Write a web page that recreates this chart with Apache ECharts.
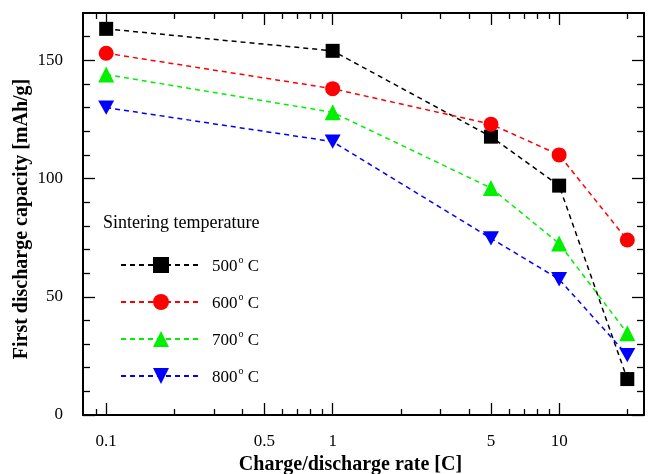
<!DOCTYPE html>
<html>
<head>
<meta charset="utf-8">
<script src="https://cdn.jsdelivr.net/npm/echarts@6/dist/echarts.min.js"></script>
<style>
  html, body { margin: 0; padding: 0; background: #fff; }
  #chart { width: 649px; height: 474px; }
</style>
</head>
<body>
<div id="chart"></div>
<script>
// Charge/discharge rates (C) and first discharge capacities (mAh/g)
const rates = [0.1, 1, 5, 10, 20];
const cap500 = [163.3, 154, 117.7, 97, 15.2];
const cap600 = [153, 138, 123, 110, 74];
const cap700 = [144, 128, 96, 72.5, 34.6];
const cap800 = [130, 115.6, 74.7, 57.4, 25.3];

const temps = ['500', '600', '700', '800'];
const seriesData = [cap500, cap600, cap700, cap800];
const colors = ['#000000', '#ff0000', '#00f000', '#0000ff'];
const symbols = ['rect', 'circle', 'triangle', 'path://M0,0 L10,0 L5,9 Z'];
const symbolSizes = [14, 15, 16, 16];

// Tick positions
const xMajor = [0.1, 0.5, 1, 5, 10];
const xMinor = [0.09, 0.2, 0.3, 0.4, 0.6, 0.7, 0.8, 0.9, 2, 3, 4, 6, 7, 8, 9, 20];
const yMajor = [0, 50, 100, 150];
const yMinor = [10, 20, 30, 40, 60, 70, 80, 90, 110, 120, 130, 140, 160];

const X_MIN = 0.079, X_MAX = 23.7, Y_MIN = 0, Y_MAX = 170;
const FONT = '"Liberation Serif", "Times New Roman", serif';

function xAxisDef(pos, ticks, len, withLabel, withLine) {
  return {
    type: 'log', logBase: 10, position: pos, min: X_MIN, max: X_MAX,
    axisLine: { show: withLine, onZero: false, lineStyle: { color: '#000', width: 2 } },
    axisTick: { show: true, inside: true, length: len, customValues: ticks, lineStyle: { color: '#000', width: 1.3 } },
    axisLabel: withLabel ? { show: true, customValues: xMajor, color: '#000', fontFamily: FONT, fontSize: 17, margin: 18, formatter: v => String(v) } : { show: false },
    splitLine: { show: false }, minorTick: { show: false }, minorSplitLine: { show: false }
  };
}
function yAxisDef(pos, ticks, len, withLabel, withLine) {
  return {
    type: 'value', position: pos, min: Y_MIN, max: Y_MAX,
    axisLine: { show: withLine, onZero: false, lineStyle: { color: '#000', width: 2 } },
    axisTick: { show: true, inside: true, length: len, customValues: ticks, lineStyle: { color: '#000', width: 1.3 } },
    axisLabel: withLabel ? { show: true, customValues: yMajor, color: '#000', fontFamily: FONT, fontSize: 17, margin: 20 } : { show: false },
    splitLine: { show: false }
  };
}

const xAxes = [
  Object.assign(xAxisDef('bottom', xMajor, 12, true, true), {
    name: 'Charge/discharge rate [C]', nameLocation: 'middle', nameGap: 40, nameMoveOverlap: false,
    nameTextStyle: { color: '#000', fontFamily: FONT, fontSize: 20, fontWeight: 'bold', padding: [0, 26, 0, 0] }
  }),
  xAxisDef('bottom', xMinor, 6, false, false),
  xAxisDef('top', xMajor, 12, false, true),
  xAxisDef('top', xMinor, 6, false, false)
];
const yAxes = [
  Object.assign(yAxisDef('left', yMajor, 12, true, true), {
    name: 'First discharge capacity [mAh/g]', nameLocation: 'middle', nameGap: 51, nameMoveOverlap: false,
    nameTextStyle: { color: '#000', fontFamily: FONT, fontSize: 20, fontWeight: 'bold', padding: [0, 10, 0, 0] }
  }),
  yAxisDef('left', yMinor, 7, false, false),
  yAxisDef('right', yMajor, 12, false, true),
  yAxisDef('right', yMinor, 7, false, false)
];

const series = temps.map((t, i) => ({
  name: t,
  type: 'line',
  data: rates.map((r, j) => [r, seriesData[i][j]]),
  symbol: symbols[i],
  symbolSize: symbolSizes[i],
  symbolKeepAspect: true,
  showAllSymbol: true,
  lineStyle: { color: colors[i], width: 1.5, type: [5, 4] },
  itemStyle: { color: colors[i], borderWidth: 0 },
  emphasis: { disabled: true },
  animation: false
}));

const chart = echarts.init(document.getElementById('chart'), null, { renderer: 'canvas' });
chart.setOption({
  backgroundColor: '#fff',
  animation: false,
  grid: { left: 83, right: 5, top: 13, bottom: 59, containLabel: false, outerBoundsMode: 'none' },
  title: {
    text: 'Sintering temperature', left: 103, top: 214, padding: 0,
    textStyle: { color: '#000', fontFamily: FONT, fontSize: 18, fontWeight: 'normal' }
  },
  legend: {
    orient: 'vertical', left: 120, top: 255, padding: 0,
    itemWidth: 80, itemHeight: 20, itemGap: 17,
    data: temps,
    formatter: name => '{t|' + name + '}{s|o}{t| C}',
    textStyle: {
      color: '#000', fontFamily: FONT, fontSize: 17, padding: [0, 0, 0, 6],
      rich: {
        t: { color: '#000', fontFamily: FONT, fontSize: 17, verticalAlign: 'bottom', lineHeight: 20 },
        s: { color: '#000', fontFamily: FONT, fontSize: 10, verticalAlign: 'top', lineHeight: 20, padding: [0, 0, 10, 1] }
      }
    },
    selectedMode: false
  },
  xAxis: xAxes,
  yAxis: yAxes,
  series: series
});
</script>
</body>
</html>
